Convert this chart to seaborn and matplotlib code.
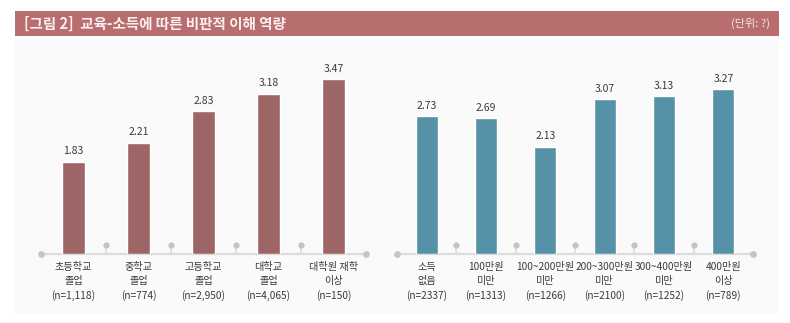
import matplotlib
matplotlib.use("Agg")
import matplotlib.pyplot as plt
from matplotlib.patches import Rectangle
import pandas as pd
import seaborn as sns

# Data
edu_labels = ["초등학교\n졸업\n(n=1,118)", "중학교\n졸업\n(n=774)", "고등학교\n졸업\n(n=2,950)",
              "대학교\n졸업\n(n=4,065)", "대학원 재학\n이상\n(n=150)"]
edu_values = [1.83, 2.21, 2.83, 3.18, 3.47]

inc_labels = ["소득\n없음\n(n=2337)", "100만원\n미만\n(n=1313)", "100~200만원\n미만\n(n=1266)",
              "200~300만원\n미만\n(n=2100)", "300~400만원\n미만\n(n=1252)", "400만원\n이상\n(n=789)"]
inc_values = [2.73, 2.69, 2.13, 3.07, 3.13, 3.27]

title = "[그림 2]  교육-소득에 따른 비판적 이해 역량"
unit = "(단위: ?)"

EDU_COLOR = "#9d6566"
INC_COLOR = "#5592a8"
BANNER = "#b86d6f"
AXIS_GRAY = "#dcdcdc"
DOT_GRAY = "#c4c4c4"
TEXT = "#3a3a3a"

sns.set_theme(style="white")
plt.rcParams["font.family"] = ["Noto Sans CJK KR", "DejaVu Sans"]

W, H = 790, 323
fig = plt.figure(figsize=(W / 100, H / 100), dpi=100)
fig.patch.set_facecolor("white")


def fx(px):
    return px / W


def fy(py):
    return 1 - py / H


# Light panel behind the charts
fig.patches.append(Rectangle((fx(15), fy(314)), fx(779) - fx(15), fy(36) - fy(314),
                             transform=fig.transFigure, facecolor="#fafafa",
                             edgecolor="none", zorder=-5))
# Title banner
fig.patches.append(Rectangle((fx(15), fy(36)), fx(779) - fx(15), fy(11) - fy(36),
                             transform=fig.transFigure, facecolor=BANNER,
                             edgecolor="none", zorder=1))
fig.text(fx(24), fy(23.5), title, color="#fbefef", fontsize=10.5, fontweight="bold",
         va="center", ha="left", zorder=2)
fig.text(fx(770), fy(23.5), unit, color="#f6e6e6", fontsize=8,
         va="center", ha="right", zorder=2)

PX_PER_UNIT = 50.4
BASE_Y = 254
TOP_Y = 50
YMAX = (BASE_Y - TOP_Y) / PX_PER_UNIT


def panel(x0, x1, labels, values, color, width):
    ax = fig.add_axes([fx(x0), fy(BASE_Y), fx(x1) - fx(x0), (BASE_Y - TOP_Y) / H])
    ax.set_facecolor("none")
    df = pd.DataFrame({"cat": labels, "val": values})
    sns.barplot(data=df, x="cat", y="val", color=color, width=width,
                saturation=1, ax=ax, zorder=3)
    n = len(labels)
    ax.set_xlim(-0.5, n - 0.5)
    ax.set_ylim(0, YMAX)
    for c in ax.containers:
        ax.bar_label(c, labels=[f"{v:.2f}" for v in values], padding=4,
                     fontsize=7.5, color=TEXT)
    # baseline with end dots
    ax.plot([-0.5, n - 0.5], [0, 0], color=AXIS_GRAY, lw=1.6, zorder=2, clip_on=False,
            solid_capstyle="butt")
    ax.plot([-0.5, n - 0.5], [0, 0], ls="none", marker="o", ms=3.8, color=DOT_GRAY,
            zorder=2, clip_on=False)
    # pin separators between bars
    stem = 9 / PX_PER_UNIT
    for i in range(n - 1):
        ax.plot([i + 0.5, i + 0.5], [0, stem], color=AXIS_GRAY, lw=1.2,
                zorder=2, clip_on=False)
        ax.plot([i + 0.5], [stem], marker="o", ms=3.5, color=DOT_GRAY,
                zorder=2, clip_on=False)
    ax.set_xlabel("")
    ax.set_ylabel("")
    ax.set_yticks([])
    ax.tick_params(axis="x", length=0, pad=6)
    for t in ax.get_xticklabels():
        t.set_fontsize(7.3)
        t.set_color(TEXT)
        t.set_linespacing(1.45)
    sns.despine(ax=ax, left=True, bottom=True)
    return ax


panel(41, 366, edu_labels, edu_values, EDU_COLOR, 0.34)
panel(397, 753, inc_labels, inc_values, INC_COLOR, 0.37)

fig.savefig("out.png", dpi=100)
